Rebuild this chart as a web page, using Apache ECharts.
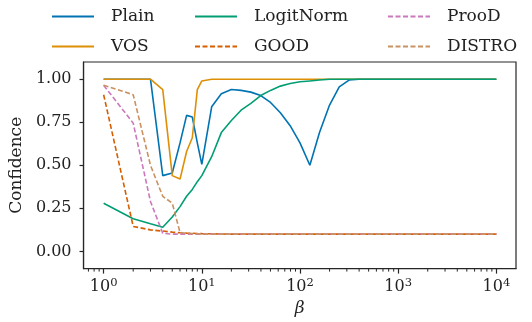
<!DOCTYPE html>
<html>
<head>
<meta charset="utf-8">
<script src="https://cdn.jsdelivr.net/npm/echarts@6/dist/echarts.min.js"></script>
<style>
  html, body { margin: 0; padding: 0; background: #fff; }
  #chart { width: 532px; height: 322px; }
</style>
</head>
<body>
<div id="chart"></div>
<script>
// beta values (shared x for every series)
const betas = [1, 2, 3, 4, 5, 6, 7, 8, 9, 10,
  12.6, 15.8, 20, 25.1, 31.6, 39.8, 50.1, 63.1, 79.4, 100,
  126, 158, 200, 251, 316, 398, 1000, 10000];

const plain = [1.0, 1.0, 1.0, 0.44, 0.455, 0.63, 0.79, 0.78, 0.63, 0.505,
  0.84, 0.915, 0.94, 0.935, 0.925, 0.905, 0.865, 0.805, 0.73, 0.63,
  0.50, 0.69, 0.85, 0.955, 0.995, 1.0, 1.0, 1.0];
const vos = [1.0, 1.0, 1.0, 0.94, 0.44, 0.42, 0.58, 0.66, 0.94, 0.99,
  1.0, 1.0, 1.0, 1.0, 1.0, 1.0, 1.0, 1.0, 1.0, 1.0,
  1.0, 1.0, 1.0, 1.0, 1.0, 1.0, 1.0, 1.0];
const logitNorm = [0.28, 0.19, 0.16, 0.14, 0.20, 0.26, 0.32, 0.36, 0.405, 0.44,
  0.55, 0.69, 0.76, 0.82, 0.86, 0.905, 0.935, 0.96, 0.975, 0.985,
  0.99, 0.995, 1.0, 1.0, 1.0, 1.0, 1.0, 1.0];
const good = [0.91, 0.145, 0.125, 0.118, 0.112, 0.108, 0.106, 0.105, 0.104, 0.103,
  0.102, 0.101, 0.1, 0.1, 0.1, 0.1, 0.1, 0.1, 0.1, 0.1,
  0.1, 0.1, 0.1, 0.1, 0.1, 0.1, 0.1, 0.1];
const prood = [0.965, 0.745, 0.29, 0.105, 0.1, 0.1, 0.1, 0.1, 0.1, 0.1,
  0.1, 0.1, 0.1, 0.1, 0.1, 0.1, 0.1, 0.1, 0.1, 0.1,
  0.1, 0.1, 0.1, 0.1, 0.1, 0.1, 0.1, 0.1];
const distro = [0.965, 0.91, 0.50, 0.32, 0.28, 0.11, 0.105, 0.103, 0.102, 0.101,
  0.1, 0.1, 0.1, 0.1, 0.1, 0.1, 0.1, 0.1, 0.1, 0.1,
  0.1, 0.1, 0.1, 0.1, 0.1, 0.1, 0.1, 0.1];

const yTicks = [0, 0.25, 0.5, 0.75, 1.0];
const xMajor = [1, 10, 100, 1000, 10000];
// minor ticks 2..9 x 10^k
const xMinor = [0.7, 0.8, 0.9,
  2, 3, 4, 5, 6, 7, 8, 9,
  20, 30, 40, 50, 60, 70, 80, 90,
  200, 300, 400, 500, 600, 700, 800, 900,
  2000, 3000, 4000, 5000, 6000, 7000, 8000, 9000];

const font = 'DejaVu Serif';
const ink = '#262626';
const yMin = -0.1;

const chart = echarts.init(document.getElementById('chart'));

const mkSeries = (name, values, color, dashed) => ({
  name: name,
  type: 'line',
  data: betas.map((b, i) => [b, values[i]]),
  symbol: 'none',
  lineStyle: { color: color, width: 1.6, type: dashed ? [5, 2.5] : 'solid' },
  itemStyle: { color: color }
})

const legendBase = {
  orient: 'vertical',
  top: 8,
  padding: 0,
  itemWidth: 42,
  itemHeight: 14,
  itemGap: 13,
  itemStyle: { opacity: 0 },
  textStyle: { fontFamily: font, fontSize: 17, color: '#222', padding: [0, 0, 0, 12] }
}

const option = {
  animation: false,
  legend: [
    Object.assign({}, legendBase, { left: 51, data: ['Plain', 'VOS'] }),
    Object.assign({}, legendBase, { left: 194, data: ['LogitNorm', 'GOOD'] }),
    Object.assign({}, legendBase, { left: 387, data: ['ProoD', 'DISTRO'] })
  ],
  grid: {
    left: 79, right: 16, top: 62, bottom: 51,
    show: true, borderColor: ink, borderWidth: 1.2, backgroundColor: 'transparent'
  },
  xAxis: {
    type: 'log',
    logBase: 10,
    min: 0.624,
    max: 15849,
    name: 'β',
    nameLocation: 'middle',
    nameGap: 19,
    nameTextStyle: { fontFamily: font, fontSize: 17, fontStyle: 'italic', color: '#222' },
    splitLine: { show: false },
    axisLine: { show: true, onZero: false, lineStyle: { color: ink, width: 1.2 } },
    axisTick: { show: true, length: 5, customValues: xMajor, lineStyle: { color: ink, width: 1.2 } },
    axisLabel: {
      customValues: xMajor,
      margin: 8,
      formatter: function (v) {
        const e = Math.round(Math.log10(v));
        return '{b|10}{s|' + e + '}';
      },
      rich: {
        b: { fontFamily: font, fontSize: 16, color: '#222' },
        s: { fontFamily: font, fontSize: 11.5, color: '#222', padding: [0, 0, 9, 0] }
      }
    }
  },
  yAxis: {
    type: 'value',
    min: yMin,
    max: 1.1,
    name: 'Confidence',
    nameLocation: 'middle',
    nameGap: 58,
    nameTextStyle: { fontFamily: font, fontSize: 17, color: '#222' },
    axisLine: { show: true, onZero: false, lineStyle: { color: ink, width: 1.2 } },
    splitLine: { show: false },
    axisTick: { show: true, length: 4, customValues: yTicks, lineStyle: { color: ink, width: 1.2 } },
    axisLabel: {
      customValues: yTicks,
      margin: 12,
      fontFamily: font, fontSize: 16, color: '#222',
      formatter: v => v.toFixed(2)
    }
  },
  series: [
    mkSeries('Plain', plain, '#0173b2', false),
    mkSeries('VOS', vos, '#de8f05', false),
    mkSeries('LogitNorm', logitNorm, '#029e73', false),
    mkSeries('GOOD', good, '#d55e00', true),
    mkSeries('ProoD', prood, '#cc78bc', true),
    mkSeries('DISTRO', distro, '#ca9161', true)
  ]
}

chart.setOption(option)

// log minor ticks, placed with the axis' own scale
const baseY = chart.convertToPixel({ yAxisIndex: 0 }, yMin)
chart.setOption({
  graphic: xMinor.map(v => {
    const px = chart.convertToPixel({ xAxisIndex: 0 }, v)
    return {
      type: 'line',
      shape: { x1: px, y1: baseY, x2: px, y2: baseY + 3 },
      style: { stroke: ink, lineWidth: 1 },
      silent: true
    }
  })
})
</script>
</body>
</html>
